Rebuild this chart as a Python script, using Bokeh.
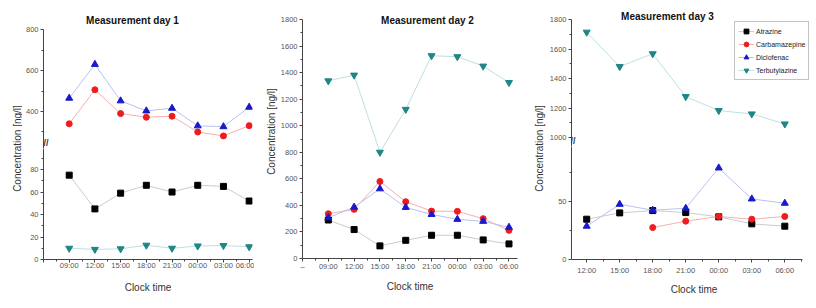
import numpy as np
from bokeh.plotting import figure
from bokeh.layouts import row, column
from bokeh.models import FixedTicker, Label, Legend, LegendItem, Range1d
from bokeh.embed import file_html
from bokeh.resources import INLINE

# ---------------- data ----------------
times_d1 = ["09:00", "12:00", "15:00", "18:00", "21:00", "00:00", "03:00", "06:00"]
times_d2 = ["09:00", "12:00", "15:00", "18:00", "21:00", "00:00", "03:00", "06:00"]
times_d3 = ["12:00", "15:00", "18:00", "21:00", "00:00", "03:00", "06:00"]

atrazine_d1 = [75, 45, 59, 66, 60, 66, 65, 52]
carbamazepine_d1 = [340, 506, 390, 372, 377, 300, 281, 331]
diclofenac_d1 = [465, 630, 452, 403, 416, 330, 326, 421]
terbutylazine_d1 = [10, 9, 9.5, 12.7, 10, 12, 12.4, 11.3]

atrazine_d2 = [290, 218, 95, 137, 175, 175, 140, 110]
carbamazepine_d2 = [337, 370, 580, 428, 357, 355, 300, 212]
diclofenac_d2 = [307, 387, 525, 385, 332, 295, 280, 235]
terbutylazine_d2 = [1338, 1381, 800, 1123, 1527, 1520, 1449, 1325]

atrazine_d3 = [34.6, 40, 42, 40.3, 36.6, 30.6, 28.6]
carbamazepine_d3 = [np.nan, np.nan, 27.4, 32.9, 36.9, 34.6, 36.9]
diclofenac_d3 = [28.6, 47.4, 42.3, 44, 78.6, 52, 48.3]
terbutylazine_d3 = [1716, 1482, 1569, 1278, 1183, 1160, 1092]

series_names = ["Atrazine", "Carbamazepine", "Diclofenac", "Terbutylazine"]

# ---------------- styles ----------------
MARKERS = ["square", "circle", "triangle", "inverted_triangle"]
SIZES = [6, 6, 7, 7]
MCOLORS = ["#000000", "#ee1c1c", "#1818cc", "#1f8585"]
LCOLORS = ["#cccccc", "#f6b0b0", "#b8c2f2", "#bfe0e0"]

AX = "#444444"
FONT = "Liberation Sans"


def base_fig(w, h, xr, yr, show_x, left, right, top, bottom):
    p = figure(width=w, height=h, x_range=Range1d(*xr), y_range=Range1d(*yr),
               toolbar_location=None, output_backend="svg",
               x_axis_location="below" if show_x else None,
               min_border_left=left, min_border_right=right,
               min_border_top=top, min_border_bottom=bottom)
    p.outline_line_color = None
    for g in p.grid:
        g.visible = False
    p.background_fill_color = "white"
    p.border_fill_color = "white"
    return p


def style_axis(ax, major, minor, standoff=2, overrides=None, bounds=None):
    ax.ticker = FixedTicker(ticks=major, minor_ticks=minor)
    ax.major_tick_out = 3
    ax.major_tick_in = 0
    ax.minor_tick_out = 2
    ax.minor_tick_in = 0
    ax.axis_line_color = AX
    ax.major_tick_line_color = AX
    ax.minor_tick_line_color = AX
    ax.major_label_text_font = FONT
    ax.major_label_text_font_size = "7.5px"
    ax.major_label_text_color = "#555555"
    ax.major_label_standoff = standoff
    if overrides:
        ax.major_label_overrides = overrides
    if bounds:
        ax.bounds = bounds


def style_xlabel(ax, standoff):
    ax.axis_label = "Clock time"
    ax.axis_label_text_font = FONT
    ax.axis_label_text_font_size = "10px"
    ax.axis_label_text_font_style = "normal"
    ax.axis_label_text_color = "#333333"
    ax.axis_label_standoff = standoff


def draw(p, x, ys):
    rends = []
    for y, mk, sz, mc, lc in zip(ys, MARKERS, SIZES, MCOLORS, LCOLORS):
        yy = np.array(y, dtype=float)
        l = p.line(x, yy, line_color=lc, line_width=1)
        s = p.scatter(x, yy, marker=mk, size=sz, fill_color=mc, line_color=mc)
        rends.append((l, s))
    return rends


def title_label(p, x, y, text):
    p.add_layout(Label(x=x, y=y, x_units="canvas", y_units="canvas", text=text,
                       text_font=FONT, text_font_size="10px",
                       text_font_style="bold", text_align="center",
                       text_baseline="middle", text_color="#111111"))


def break_mark(p, x, y):
    p.add_layout(Label(x=x, y=y, x_units="canvas", y_units="canvas", text="//",
                       text_font=FONT, text_font_size="9px",
                       text_font_style="bold", text_align="left",
                       text_baseline="middle", text_color="#333333"))


def ylabel_fig(w, h, x, y):
    p = figure(width=w, height=h, toolbar_location=None, output_backend="svg",
               x_axis_location=None, y_axis_location=None, min_border=0)
    p.outline_line_color = None
    for g in p.grid:
        g.visible = False
    p.add_layout(Label(x=x, y=y, x_units="canvas", y_units="canvas",
                       text="Concentration [ng/l]", angle=np.pi / 2,
                       text_font=FONT, text_font_size="10px",
                       text_align="center", text_baseline="middle",
                       text_color="#333333"))
    return p


# ---------------- day 1 (broken axis) ----------------
x1 = np.arange(1, len(times_d1) + 1)
ov1 = {0: ""}
ov1.update({i + 1: t for i, t in enumerate(times_d1)})
ys1 = [atrazine_d1, carbamazepine_d1, diclofenac_d1, terbutylazine_d1]
xr1 = (0, 8.13)

L1 = ylabel_fig(22, 308, 17, 148)

T1 = base_fig(232, 148, xr1, (219.5, 922), False, 20, 2, 4, 0)
draw(T1, x1, ys1)
style_axis(T1.yaxis[0], [400, 600, 800], [300, 500, 700], bounds=(219.5, 800))
title_label(T1, 110, 20, "Measurement day 1")
break_mark(T1, 21, 142)

B1 = base_fig(232, 160, xr1, (0, 98.7), True, 20, 2, 0, 49)
draw(B1, x1, ys1)
style_axis(B1.yaxis[0], [0, 20, 40, 60, 80], [10, 30, 50, 70, 90])
style_axis(B1.xaxis[0], list(range(0, 9)), [i + 0.5 for i in range(0, 8)],
           standoff=-2, overrides=ov1)
style_xlabel(B1.xaxis[0], 9)

# ---------------- day 2 ----------------
x2 = np.arange(1, len(times_d2) + 1)
ov2 = {0: "\u2013"}
ov2.update({i + 1: t for i, t in enumerate(times_d2)})
ys2 = [atrazine_d2, carbamazepine_d2, diclofenac_d2, terbutylazine_d2]

P2 = base_fig(276, 308, (0, 8.33), (0, 1913), True, 48, 13, 4, 50)
draw(P2, x2, ys2)
style_axis(P2.yaxis[0], list(range(0, 1801, 200)), list(range(100, 1800, 200)),
           bounds=(0, 1800))
style_axis(P2.xaxis[0], list(range(0, 9)), [i + 0.5 for i in range(0, 9)],
           standoff=0, overrides=ov2)
style_xlabel(P2.xaxis[0], 7)
ya = P2.yaxis[0]
ya.axis_label = "Concentration [ng/l]"
ya.axis_label_text_font = FONT
ya.axis_label_text_font_size = "10px"
ya.axis_label_text_font_style = "normal"
ya.axis_label_text_color = "#333333"
ya.axis_label_standoff = 1
title_label(P2, 173, 20, "Measurement day 2")

# ---------------- day 3 (broken axis) ----------------
x3 = np.arange(0, len(times_d3))
ov3 = {i: t for i, t in enumerate(times_d3)}
ys3 = [atrazine_d3, carbamazepine_d3, diclofenac_d3, terbutylazine_d3]
xr3 = (-0.46, 6.96)

L3 = ylabel_fig(16, 308, 9, 148)

T3 = base_fig(270, 146, xr3, (938.8, 1904), False, 23, 0, 4, 0)
r3 = draw(T3, x3, ys3)
style_axis(T3.yaxis[0], list(range(1000, 1801, 200)), list(range(1100, 1800, 200)),
           bounds=(938.8, 1800))
title_label(T3, 121, 16, "Measurement day 3")
break_mark(T3, 24, 140)

items = [LegendItem(label=n, renderers=list(r)) for n, r in zip(series_names, r3)]
legend = Legend(items=items, location=(163, 66), orientation="vertical",
                glyph_width=16, glyph_height=12, label_height=12, spacing=1,
                padding=3, margin=0, label_standoff=2,
                label_text_font=FONT, label_text_font_size="7px",
                label_text_color="#222222", border_line_color="#888888",
                border_line_width=1, background_fill_color="white",
                background_fill_alpha=1.0)
T3.add_layout(legend)

B3 = base_fig(270, 162, xr3, (0, 97), True, 23, 0, 0, 49)
draw(B3, x3, ys3)
style_axis(B3.yaxis[0], [0, 50], [25, 75])
style_axis(B3.xaxis[0], list(range(0, 7)), [i + 0.5 for i in range(0, 7)],
           standoff=3, overrides=ov3, bounds=(-0.46, 6.54))
style_xlabel(B3.xaxis[0], 6)

layout = row(L1, column(T1, B1), P2, L3, column(T3, B3))

with open("out.html", "w") as f:
    f.write(file_html(layout, INLINE))
